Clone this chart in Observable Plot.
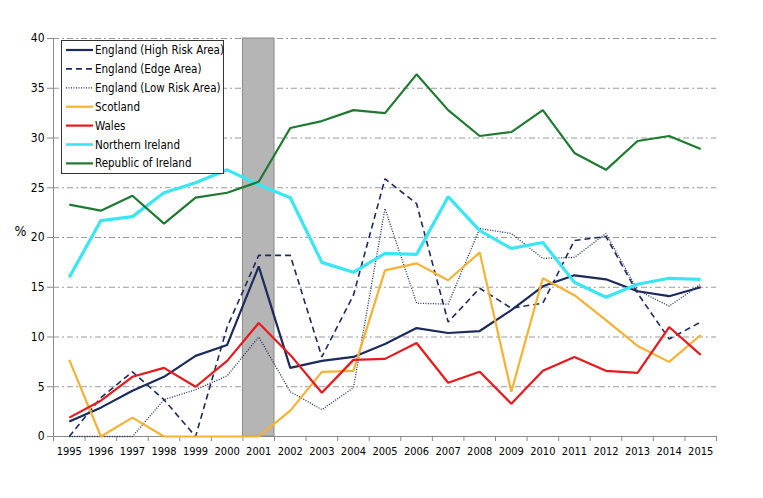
<!DOCTYPE html>
<html>
<head>
<meta charset="utf-8">
<script src="https://cdn.jsdelivr.net/npm/d3@7"></script>
<script src="https://cdn.jsdelivr.net/npm/@observablehq/plot@0.6"></script>
<style>
  html, body { margin: 0; padding: 0; background: #fff; }
  #chart { width: 763px; height: 498px; }
</style>
</head>
<body>
<div id="chart"></div>
<script>
const years = ["1995","1996","1997","1998","1999","2000","2001","2002","2003","2004","2005","2006","2007","2008","2009","2010","2011","2012","2013","2014","2015"];
const highlightYears = ["2001"];
const yTicks = [0, 5, 10, 15, 20, 25, 30, 35, 40];

const seriesNames = ["England (High Risk Area)", "England (Edge Area)", "England (Low Risk Area)", "Scotland", "Wales", "Northern Ireland", "Republic of Ireland"];

const englandHigh = [1.5, 2.9, 4.6, 6.0, 8.1, 9.2, 17.1, 6.9, 7.6, 8.0, 9.3, 10.9, 10.4, 10.6, 12.7, 15.1, 16.2, 15.8, 14.6, 14.1, 15.0];
const englandEdge = [0, 3.9, 6.5, 3.7, 0, 11.0, 18.2, 18.2, 8.0, 14.2, 25.9, 23.4, 11.5, 14.9, 12.9, 13.4, 19.7, 20.1, 14.4, 9.8, 11.5];
const englandLow  = [0, 0, 0, 3.7, 4.7, 6.1, 10.0, 4.5, 2.7, 4.9, 22.9, 13.4, 13.3, 20.9, 20.4, 17.9, 18.0, 20.4, 14.7, 13.1, 15.3];
const scotland    = [7.7, 0, 1.9, 0, 0, 0, 0, 2.6, 6.5, 6.6, 16.7, 17.4, 15.7, 18.5, 4.5, 15.9, 14.2, 11.7, 9.1, 7.5, 10.2];
const wales       = [1.9, 3.6, 6.0, 6.9, 5.0, 7.6, 11.4, 8.2, 4.4, 7.7, 7.8, 9.4, 5.4, 6.5, 3.3, 6.6, 8.0, 6.6, 6.4, 11.0, 8.2];
const nIreland    = [16.0, 21.7, 22.1, 24.5, 25.5, 26.8, 25.3, 24.0, 17.5, 16.5, 18.4, 18.3, 24.1, 20.7, 18.9, 19.5, 15.5, 14.0, 15.3, 15.9, 15.8];
const rIreland    = [23.3, 22.7, 24.2, 21.4, 24.0, 24.5, 25.6, 31.0, 31.7, 32.8, 32.5, 36.4, 32.8, 30.2, 30.6, 32.8, 28.5, 26.8, 29.7, 30.2, 28.9];

const seriesValues = [englandHigh, englandEdge, englandLow, scotland, wales, nIreland, rIreland];

// styles (separate from data)
const styles = [
  {stroke: "#1c2a5c", width: 2.2, dash: null},
  {stroke: "#1c2a5c", width: 1.6, dash: "6,4"},
  {stroke: "#1c2a5c", width: 1.3, dash: "1,1.5"},
  {stroke: "#f7b133", width: 2.2, dash: null},
  {stroke: "#e8191c", width: 2.2, dash: null},
  {stroke: "#3be6f4", width: 3.2, dash: null},
  {stroke: "#1e7a30", width: 2.2, dash: null}
];

const FONT = "'DejaVu Sans Condensed', 'DejaVu Sans', sans-serif";

const tables = seriesValues.map((vals, s) => vals.map((v, i) => ({series: seriesNames[s], year: years[i], pos: years.indexOf(years[i]) + 0.5, value: v})));

const chart = Plot.plot({
  width: 763,
  height: 498,
  marginLeft: 53,
  marginTop: 38,
  marginRight: 47,
  marginBottom: 62,
  style: {fontFamily: FONT, background: "#fff", color: "#000"},
  x: {domain: [0, years.length], axis: null},
  y: {domain: [0, 40], axis: null},
  marks: [
    Plot.ruleY(yTicks.filter(d => d > 0), {stroke: "#9a9a9a", strokeWidth: 1, strokeDasharray: "6,3,2,3"}),
    Plot.rect(highlightYears, {x1: d => years.indexOf(d), x2: d => years.indexOf(d) + 1, y1: 0, y2: 40, fill: "#b5b5b5", stroke: "#8a8a8a", strokeWidth: 1}),
    Plot.ruleX([0], {stroke: "#8a8a8a"}),
    Plot.ruleY([0], {stroke: "#8a8a8a"}),
    Plot.axisY({ticks: yTicks, tickSize: 6, tickPadding: 3, fontSize: 12, stroke: "#8a8a8a", fill: "#000", label: null}),
    Plot.axisX({ticks: d3.range(0, years.length + 1), tickFormat: () => "", tickSize: 5, stroke: "#8a8a8a", label: null}),
    Plot.axisX({ticks: years.map((y, i) => i + 0.5), tickFormat: d => years[Math.round(d - 0.5)], tickSize: 0, tickPadding: 11, fontSize: 11, fill: "#000", label: null}),
    Plot.text(["%"], {frameAnchor: "left", dx: -39, dy: -6, fontSize: 14, fill: "#000"}),
    ...tables.map((t, s) => Plot.lineY(t, {
      x: "pos", y: "value",
      stroke: styles[s].stroke, strokeWidth: styles[s].width,
      strokeDasharray: styles[s].dash, strokeLinejoin: "miter", strokeLinecap: "butt"
    }))
  ]
});

document.getElementById("chart").appendChild(chart);

// legend inside plot area
const svg = d3.select(chart);
const lg = svg.append("g").attr("font-family", FONT).attr("font-size", 11.5).attr("text-anchor", "start");
lg.append("rect").attr("x", 61.5).attr("y", 40.5).attr("width", 162).attr("height", 133)
  .attr("fill", "#fff").attr("stroke", "#333").attr("stroke-width", 1);
seriesNames.forEach((name, i) => {
  const cy = 50 + i * 18.9;
  lg.append("line").attr("x1", 66).attr("x2", 93).attr("y1", cy).attr("y2", cy)
    .attr("stroke", styles[i].stroke).attr("stroke-width", Math.min(styles[i].width, 2.6))
    .attr("stroke-dasharray", styles[i].dash);
  lg.append("text").attr("x", 95).attr("y", cy).attr("dy", "0.35em").attr("text-anchor", "start").attr("fill", "#000").text(name);
});
</script>
</body>
</html>
